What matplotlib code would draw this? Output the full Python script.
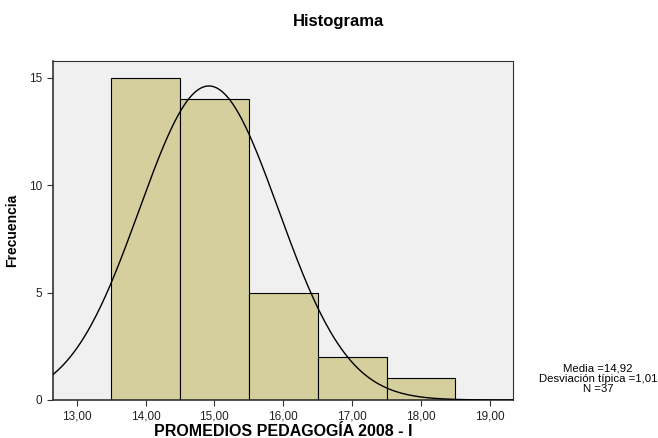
import numpy as np
import matplotlib.pyplot as plt

plt.rcParams["font.family"] = ["Liberation Sans", "DejaVu Sans"]

# histogram bins (bin edges) and counts
bin_edges = [13.5, 14.5, 15.5, 16.5, 17.5, 18.5]
counts = [15, 14, 5, 2, 1]
media = 14.92
desv = 1.01
n = 37
xticks = [13, 14, 15, 16, 17, 18, 19]
yticks = [0, 5, 10, 15]

fig = plt.figure(figsize=(6.58, 4.38), dpi=100)
ax = fig.add_axes([0.0805, 0.0868, 0.6985, 0.7746])
ax.set_facecolor("#F0F0F0")

widths = np.diff(bin_edges)
ax.bar(bin_edges[:-1], counts, width=widths, align="edge",
       color="#D4CF9D", edgecolor="black", linewidth=0.8, zorder=2)

# normal curve scaled to counts
xs = np.linspace(12.656, 19.33, 400)
ys = n * 1.0 / (desv * np.sqrt(2 * np.pi)) * np.exp(-0.5 * ((xs - media) / desv) ** 2)
ax.plot(xs, ys, color="black", lw=1.0, zorder=3)

ax.set_xlim(12.656, 19.33)
ax.set_ylim(0, 15.79)
ax.set_xticks(xticks)
ax.xaxis.set_major_formatter(plt.FuncFormatter(lambda v, p: ("%.2f" % v).replace(".", ",")))
ax.set_yticks(yticks)
ax.tick_params(labelsize=8.5, length=4, width=0.8, colors="#333333", labelcolor="#222222")
for s in ax.spines.values():
    s.set_linewidth(0.8)
    s.set_color("#333333")
ax.spines["left"].set_linewidth(1.2)
ax.spines["bottom"].set_linewidth(1.2)

ax.set_xlabel("PROMEDIOS PEDAGOGÍA 2008 - I", fontsize=11.5, fontweight="bold", labelpad=1)
ax.set_ylabel("Frecuencia", fontsize=10, fontweight="bold")
ax.yaxis.set_label_coords(-0.074, 0.5)

fig.text(0.514, 0.95, "Histograma", ha="center", va="center", fontsize=12, fontweight="bold")
fig.text(0.909, 0.1, "Media =14,92\nDesviación típica =1,01\nN =37",
         ha="center", va="bottom", fontsize=8.2, linespacing=1.05)

plt.savefig("out.png", dpi=100)
